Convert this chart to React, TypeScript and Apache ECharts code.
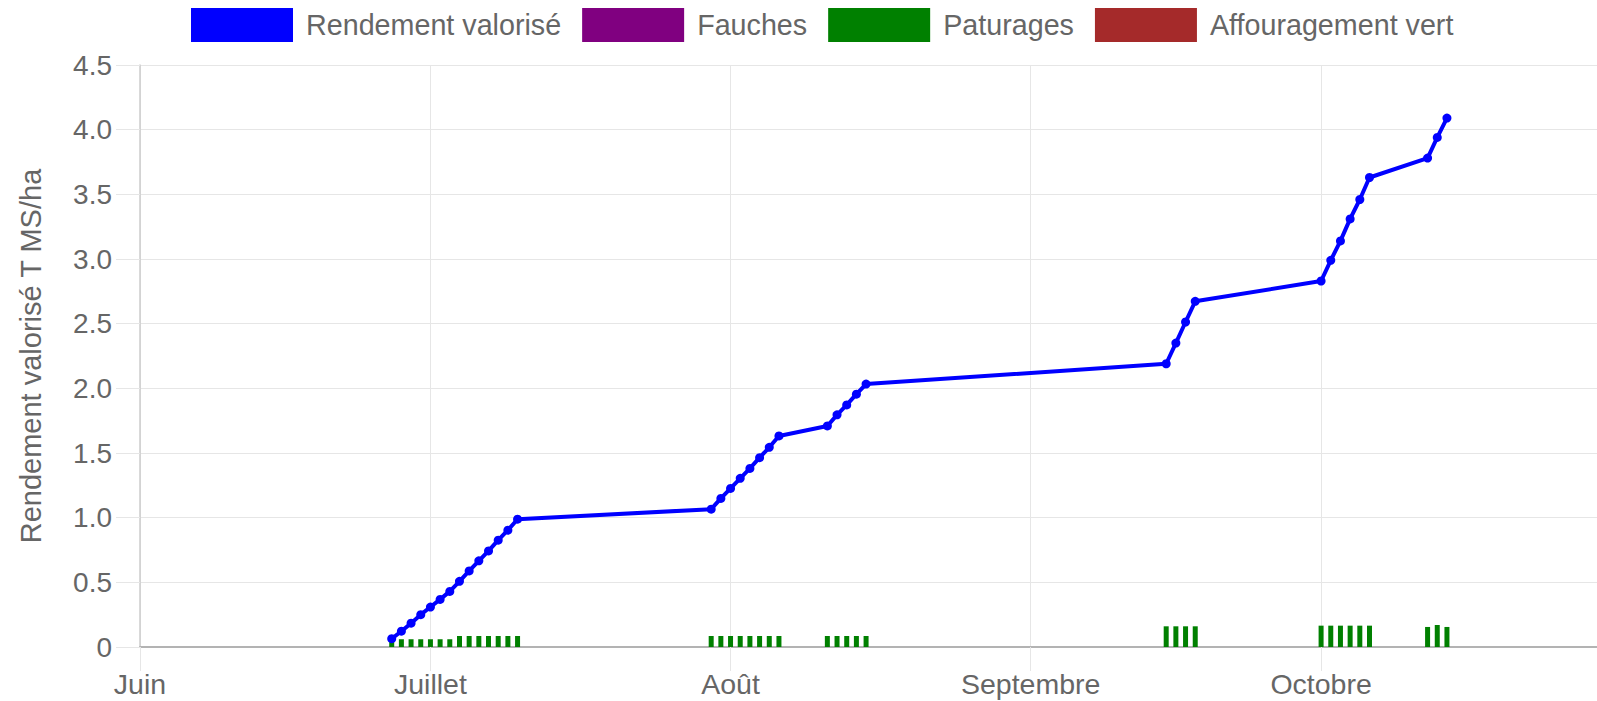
import React, { useEffect, useRef } from "react";
import * as echarts from "echarts";

const FONT = "'Liberation Sans', Arial, Helvetica, sans-serif";

const legendNames = ["Rendement valorisé", "Fauches", "Paturages", "Affouragement vert"];
const seriesColors = ["#0000ff", "#800080", "#008000", "#a52a2a"];
const monthLabels = [
  "Janvier", "Février", "Mars", "Avril", "Mai", "Juin",
  "Juillet", "Août", "Septembre", "Octobre", "Novembre", "Décembre",
];
const yTickLabels = ["0", "0.5", "1.0", "1.5", "2.0", "2.5", "3.0", "3.5", "4.0", "4.5"];
const yAxisTitle = "Rendement valorisé T MS/ha";
const xMin = "2023-06-01";
const xMax = "2023-10-29 12:00:00";

const dates = [
  "2023-06-27", "2023-06-28", "2023-06-29", "2023-06-30", "2023-07-01", "2023-07-02", "2023-07-03",
  "2023-07-04", "2023-07-05", "2023-07-06", "2023-07-07", "2023-07-08", "2023-07-09", "2023-07-10",
  "2023-07-30", "2023-07-31", "2023-08-01", "2023-08-02", "2023-08-03", "2023-08-04", "2023-08-05",
  "2023-08-06", "2023-08-11", "2023-08-12", "2023-08-13", "2023-08-14", "2023-08-15",
  "2023-09-15", "2023-09-16", "2023-09-17", "2023-09-18",
  "2023-10-01", "2023-10-02", "2023-10-03", "2023-10-04", "2023-10-05", "2023-10-06",
  "2023-10-12", "2023-10-13", "2023-10-14",
];

const rendementValues = [
  0.064, 0.122, 0.184, 0.25, 0.309, 0.368, 0.43,
  0.508, 0.588, 0.666, 0.743, 0.826, 0.903, 0.988,
  1.066, 1.149, 1.226, 1.304, 1.381, 1.464, 1.544,
  1.632, 1.709, 1.795, 1.872, 1.955, 2.033,
  2.19, 2.35, 2.513, 2.673,
  2.83, 2.99, 3.14, 3.31, 3.46, 3.63,
  3.78, 3.94, 4.09,
];

const paturagesValues = [
  0.06, 0.06, 0.06, 0.06, 0.06, 0.06, 0.06,
  0.085, 0.085, 0.085, 0.085, 0.085, 0.085, 0.085,
  0.085, 0.085, 0.085, 0.085, 0.085, 0.085, 0.085,
  0.085, 0.085, 0.085, 0.085, 0.085, 0.085,
  0.16, 0.16, 0.16, 0.16,
  0.165, 0.165, 0.165, 0.165, 0.165, 0.165,
  0.155, 0.17, 0.155,
];

const fauchesValues: [number, number][] = [];
const affouragementValues: [number, number][] = [];

const DAY = 24 * 3600 * 1000;

function parseLocal(s: string): number {
  const [d, t] = s.split(" ");
  const [y, m, dd] = d.split("-").map(Number);
  const [hh, mi, ss] = t ? t.split(":").map(Number) : [0, 0, 0];
  return new Date(y, m - 1, dd, hh, mi, ss).getTime();
}

export default function App() {
  const ref = useRef<HTMLDivElement>(null);

  useEffect(() => {
    if (!ref.current) return;
    const chart = echarts.init(ref.current, undefined, { renderer: "svg" });
    const gridColor = "#e6e6e6";
    const minTs = parseLocal(xMin);
    const maxTs = parseLocal(xMax);
    const times = dates.map(parseLocal);
    const option = {
      animation: false,
      textStyle: { fontFamily: FONT },
      legend: {
        data: legendNames,
        left: 191,
        top: 8,
        padding: 0,
        itemWidth: 102,
        itemHeight: 34,
        itemGap: 21,
        icon: "rect",
        selectedMode: false,
        textStyle: { fontSize: 28.7, color: "#666", fontFamily: FONT, padding: [0, 0, 0, 8] },
      },
      grid: { left: 140, right: 0, top: 65, bottom: 54, containLabel: false },
      xAxis: [
        {
          type: "time",
          min: minTs,
          max: maxTs,
          minInterval: 28 * DAY,
          maxInterval: 31 * DAY,
          axisLine: { show: true, onZero: true, lineStyle: { color: "#b3b3b3", width: 2 } },
          axisTick: { show: true, length: 24, lineStyle: { color: gridColor, width: 1 } },
          splitLine: { show: true, lineStyle: { color: gridColor, width: 1 } },
          axisLabel: {
            fontSize: 28.5,
            color: "#666",
            fontFamily: FONT,
            margin: 22,
            formatter: (v: number) => monthLabels[new Date(v).getMonth()],
          },
        },
        {
          type: "value",
          min: minTs,
          max: maxTs,
          show: false,
          splitLine: { show: false },
        },
      ],
      yAxis: {
        type: "value",
        min: 0,
        max: 4.5,
        interval: 0.5,
        name: yAxisTitle,
        nameLocation: "middle",
        nameGap: 95,
        nameTextStyle: { fontSize: 29, color: "#666", fontFamily: FONT },
        axisLine: { show: true, lineStyle: { color: "#cccccc", width: 1.5 } },
        axisTick: { show: true, length: 24, lineStyle: { color: gridColor, width: 1 } },
        splitLine: { show: true, lineStyle: { color: gridColor, width: 1 } },
        axisLabel: {
          fontSize: 28,
          color: "#666",
          fontFamily: FONT,
          margin: 28,
          formatter: (v: number) => yTickLabels[Math.round(v / 0.5)] ?? String(v),
        },
      },
      series: [
        {
          name: legendNames[0],
          type: "line",
          xAxisIndex: 0,
          z: 5,
          data: times.map((t, i) => [t, rendementValues[i]]),
          symbol: "circle",
          symbolSize: 9,
          showSymbol: true,
          lineStyle: { color: seriesColors[0], width: 4 },
          itemStyle: { color: seriesColors[0] },
        },
        {
          name: legendNames[1],
          type: "bar",
          xAxisIndex: 1,
          stack: "usage",
          barWidth: 5,
          itemStyle: { color: seriesColors[1] },
          data: fauchesValues,
        },
        {
          name: legendNames[2],
          type: "bar",
          xAxisIndex: 1,
          stack: "usage",
          barWidth: 5,
          itemStyle: { color: seriesColors[2] },
          data: times.map((t, i) => [t, paturagesValues[i]]),
        },
        {
          name: legendNames[3],
          type: "bar",
          xAxisIndex: 1,
          stack: "usage",
          barWidth: 5,
          itemStyle: { color: seriesColors[3] },
          data: affouragementValues,
        },
      ],
    };
    chart.setOption(option as any);
    return () => chart.dispose();
  }, []);

  return (
    <div
      ref={ref}
      style={{ position: "fixed", left: 0, top: 0, width: 1597, height: 701, background: "#fff" }}
    />
  );
}
